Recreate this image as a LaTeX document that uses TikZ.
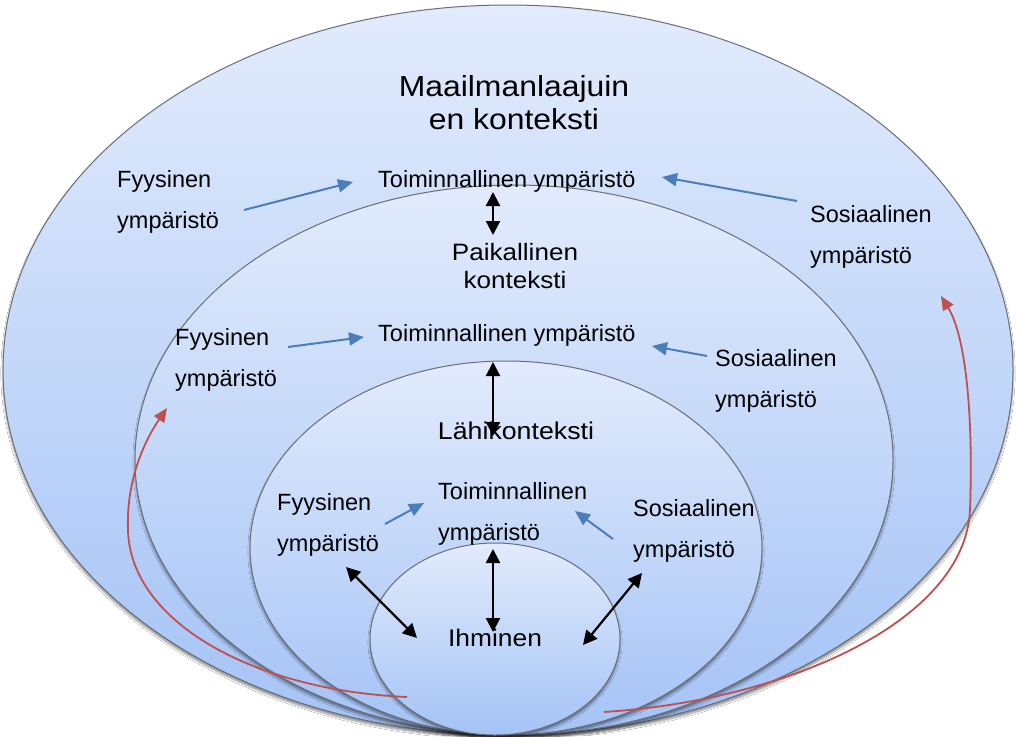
\documentclass[tikz,border=0pt]{standalone}
\usepackage{fontspec}
\setmainfont{Liberation Sans}
\newfontfamily\titlefont[FakeStretch=1.1]{Liberation Sans}
\usetikzlibrary{arrows.meta,shadows.blur}

\definecolor{shadetop}{RGB}{226,235,252}
\definecolor{shadebot}{RGB}{164,195,246}
\definecolor{rimgray}{RGB}{105,110,120}
\definecolor{linkblue}{RGB}{74,126,187}
\definecolor{loopred}{RGB}{192,80,77}

\tikzset{
  zone/.style={draw=rimgray, line width=1pt, top color=shadetop, bottom color=shadebot,
    blur shadow={shadow xshift=0pt, shadow yshift=-3pt, shadow blur steps=6, shadow opacity=45}},
  % base anchor sits on the last line of a multi-line text
  envtext/.style={font=\fontsize{23.5}{40.5}\selectfont, align=left, inner sep=0pt, anchor=base west},
  leveltext/.style={align=center, inner sep=0pt, anchor=base},
  influence/.style={draw=linkblue, line width=2pt, -{Triangle[length=15pt,width=13pt]}},
  interplay/.style={draw=black, line width=2.2pt,
    {Triangle[length=14pt,width=14pt]}-{Triangle[length=14pt,width=14pt]}},
  feedback/.style={draw=loopred, line width=1.8pt, -{Triangle[length=14pt,width=12pt]}}
}

\begin{document}
\begin{tikzpicture}[x=1pt,y=-1pt]
\useasboundingbox (0,0) rectangle (1016,736);
\fill[white] (0,0) rectangle (1016,736);

% nested contexts
\path[zone] (508,370) ellipse [x radius=505, y radius=365];
\path[zone] (514,460) ellipse [x radius=379, y radius=275];
\path[zone] (506,548) ellipse [x radius=256, y radius=187];
\path[zone] (495,639) ellipse [x radius=125, y radius=96];

% context titles
\node[leveltext, font=\titlefont\fontsize{29}{33}\selectfont] (world) at (514,129) {Maailmanlaajuin\\en konteksti};
\node[leveltext, font=\titlefont\fontsize{23.7}{28}\selectfont] (local) at (515,288) {Paikallinen\\konteksti};
\node[leveltext, font=\titlefont\fontsize{24.3}{28}\selectfont] (near) at (516,439) {Lähikonteksti};
\node[leveltext, font=\titlefont\fontsize{24}{28}\selectfont] (person) at (495,646) {Ihminen};

% environments, global level
\node[envtext] (fys1) at (117,228) {Fyysinen\\ympäristö};
\node[envtext] (toi1) at (378,187) {Toiminnallinen ympäristö};
\node[envtext] (sos1) at (810,263) {Sosiaalinen\\ympäristö};
% environments, local level
\node[envtext] (fys2) at (175,386) {Fyysinen\\ympäristö};
\node[envtext] (toi2) at (378,341) {Toiminnallinen ympäristö};
\node[envtext] (sos2) at (715,407) {Sosiaalinen\\ympäristö};
% environments, near level
\node[envtext] (fys3) at (277,551) {Fyysinen\\ympäristö};
\node[envtext] (toi3) at (438,540) {Toiminnallinen\\ympäristö};
\node[envtext] (sos3) at (633,557) {Sosiaalinen\\ympäristö};

% connector end points
\coordinate (f1a) at (244,210); \coordinate (f1b) at (353,182);
\coordinate (s1a) at (797,201); \coordinate (s1b) at (662,177);
\coordinate (f2a) at (288,347); \coordinate (f2b) at (364,337);
\coordinate (s2a) at (707,356); \coordinate (s2b) at (652,346);
\coordinate (f3a) at (385,524); \coordinate (f3b) at (424,503);
\coordinate (s3a) at (613,539); \coordinate (s3b) at (575,511);

\coordinate (v1a) at (493,192); \coordinate (v1b) at (493,235);
\coordinate (v2a) at (493,362); \coordinate (v2b) at (493,436);
\coordinate (v3a) at (493,549); \coordinate (v3b) at (493,632);
\coordinate (d1a) at (346,567); \coordinate (d1b) at (417,638);
\coordinate (d2a) at (642,573); \coordinate (d2b) at (583,645);

\coordinate (r1a) at (407,697); \coordinate (r1m) at (128,530); \coordinate (r1b) at (167,408);
\coordinate (r2a) at (604,712); \coordinate (r2m) at (970,510); \coordinate (r2b) at (941,296);

% environments feeding the functional environment
\draw[influence] (f1a) -- (f1b);
\draw[influence] (s1a) -- (s1b);
\draw[influence] (f2a) -- (f2b);
\draw[influence] (s2a) -- (s2b);
\draw[influence] (f3a) -- (f3b);
\draw[influence] (s3a) -- (s3b);

% interplay between levels
\draw[interplay] (v1a) -- (v1b);
\draw[interplay] (v2a) -- (v2b);
\draw[interplay] (v3a) -- (v3b);
\draw[interplay] (d1a) -- (d1b);
\draw[interplay] (d2a) -- (d2b);

% feedback from the person outwards
\draw[feedback] (r1a) .. controls (250,690) and (130,620) .. (r1m)
                      .. controls (126,480) and (145,440) .. (r1b);
\draw[feedback] (r2a) .. controls (790,700) and (965,620) .. (r2m)
                      .. controls (973,430) and (968,340) .. (r2b);
\end{tikzpicture}
\end{document}
